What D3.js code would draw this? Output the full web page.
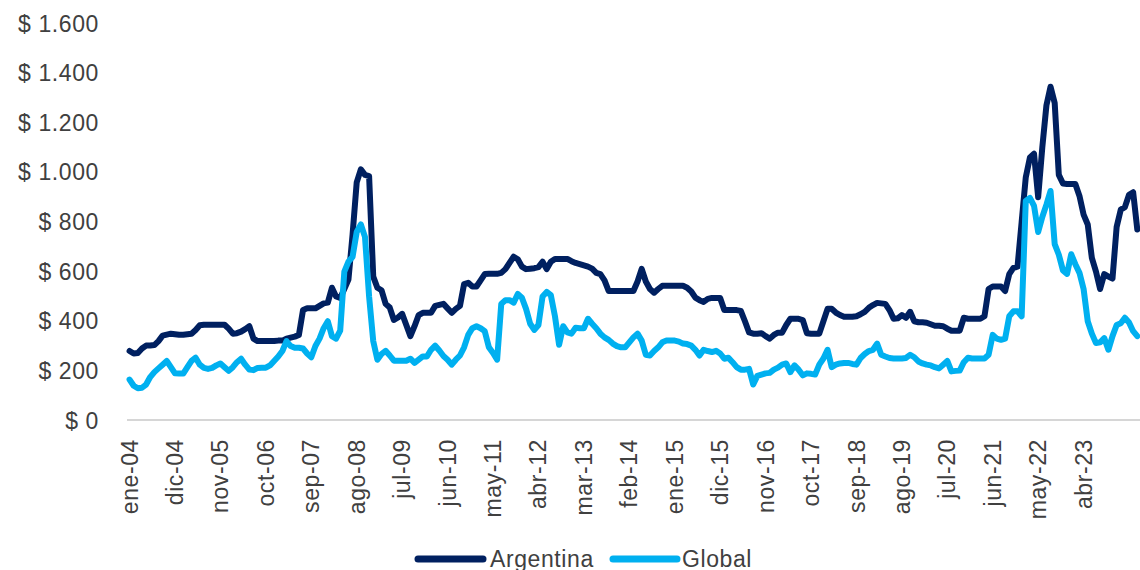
<!DOCTYPE html>
<html>
<head>
<meta charset="utf-8">
<script src="https://cdn.jsdelivr.net/npm/d3@7"></script>
<style>
  body { margin: 0; background: #fff; }
  text { font-family: "Liberation Sans", Arial, sans-serif; fill: #404040; }
</style>
</head>
<body>
<svg id="chart" width="1140" height="570"></svg>
<script>
// meses en español para las etiquetas
const meses = ["ene", "feb", "mar", "abr", "may", "jun", "jul", "ago", "sep", "oct", "nov", "dic"];
const startYear = 2004;

// valores mensuales (USD), ene-04 a may-24
const argentina = [
  280, 270, 272, 290, 302, 302, 304, 320, 342, 346, 350, 348,
  346, 346, 348, 350, 365, 384, 386, 386, 386, 386, 386, 386,
  370, 350, 352, 358, 368, 380, 330, 320, 320, 320, 320, 320,
  322, 322, 330, 334, 338, 345, 445, 452, 452, 452, 462, 472,
  475, 535, 500, 494, 530, 568, 750, 960, 1012, 990, 985, 580,
  535, 525, 470, 455, 405, 415, 430, 385, 340, 380, 425, 434,
  434, 434, 462, 466, 470, 452, 434, 450, 462, 550, 555, 540,
  540, 565, 590, 591, 591, 591, 595, 610, 635, 660, 650, 620,
  610, 612, 614, 618, 640, 610, 640, 651, 651, 651, 651, 642,
  635, 630, 625, 620, 612, 595, 590, 565, 522, 522, 522, 522,
  522, 522, 522, 560, 611, 560, 530, 515, 530, 543, 543, 543,
  543, 543, 543, 535, 520, 495, 485, 478, 490, 494, 494, 494,
  445, 445, 445, 445, 442, 400, 355, 350, 350, 352, 340, 330,
  345, 354, 354, 385, 410, 410, 410, 405, 352, 350, 350, 350,
  400, 450, 450, 435, 425, 418, 418, 418, 420, 428, 438, 454,
  465, 474, 472, 470, 445, 410, 412, 425, 414, 438, 400, 396,
  396, 394, 388, 382, 382, 380, 370, 362, 362, 362, 414, 410,
  410, 410, 410, 420, 530, 540, 540, 540, 522, 590, 615, 620,
  800, 980, 1060, 1075, 900, 1100, 1270, 1345, 1280, 990, 955, 953,
  953, 953, 905, 830, 790, 655, 600, 530, 590, 580, 572, 780,
  850, 860, 910, 920, 770
];

const global = [
  165, 140, 130, 132, 145, 175, 195, 210, 225, 240, 215, 190,
  189, 189, 215, 240, 253, 225, 212, 208, 212, 222, 230, 215,
  200, 215, 235, 249, 225, 205, 203, 212, 213, 213, 222, 240,
  258, 280, 320, 300, 293, 293, 290, 270, 255, 300, 330, 372,
  400, 340, 330, 362, 600, 640, 660, 760, 790, 740, 500, 320,
  245, 268, 281, 262, 241, 241, 241, 241, 249, 232, 245, 258,
  258, 285, 302, 282, 260, 245, 225, 245, 262, 295, 345, 372,
  380, 372, 360, 295, 272, 245, 470, 485, 485, 475, 510, 495,
  450, 390, 365, 385, 500, 518, 505, 420, 305, 380, 355, 350,
  374, 372, 372, 410, 390, 372, 350, 335, 325, 310, 300, 295,
  295, 315, 335, 350, 322, 265, 262, 280, 295, 315, 322, 322,
  322, 318, 310, 308, 302, 285, 262, 285, 280, 276, 281, 270,
  249, 253, 235, 215, 205, 205, 208, 145, 180, 185, 190, 192,
  205, 213, 225, 230, 195, 222, 205, 182, 190, 188, 185, 225,
  250, 285, 215, 225, 230, 232, 232, 228, 225, 252, 268, 280,
  285, 310, 265, 258, 252, 250, 250, 250, 252, 265, 255, 238,
  230, 225, 222, 215, 210, 225, 240, 198, 200, 201, 235, 253,
  250, 250, 250, 250, 265, 345, 330, 325, 330, 420, 440, 440,
  420, 885, 897, 865, 760, 820, 870, 925, 711, 668, 605, 591,
  670, 630, 595, 530, 400, 350, 312, 315, 332, 285, 340, 385,
  392, 414, 395, 360, 340
];

const yTicks = [0, 200, 400, 600, 800, 1000, 1200, 1400, 1600];
const labelStep = 11;   // una etiqueta cada 11 meses
const lastLabel = 231;  // abr-23 es la ultima etiqueta visible

const meses_cat = argentina.map((d, i) =>
  meses[i % 12] + "-" + String(startYear + Math.floor(i / 12)).slice(2));

const series = [
  { name: "Argentina", values: argentina, color: "#002060" },
  { name: "Global", values: global, color: "#00B0F0" }
];

const svg = d3.select("#chart");

const x = d3.scaleBand()
  .domain(meses_cat)
  .range([127.5, 127.5 + meses_cat.length * 4.13]);

const y = d3.scaleLinear()
  .domain([0, 1600])
  .range([420.5, 23.5]);

const locale = d3.formatLocale({ decimal: ",", thousands: ".", grouping: [3], currency: ["$ ", ""] });
const fmt = locale.format("$,");

// eje Y (solo etiquetas)
svg.append("g")
  .selectAll("text")
  .data(yTicks)
  .enter().append("text")
  .attr("x", 99)
  .attr("y", d => y(d))
  .attr("dy", "0.35em")
  .attr("text-anchor", "end")
  .attr("font-size", "23px")
  .attr("letter-spacing", "0.6px")
  .text(d => fmt(d));

// linea base
svg.append("line")
  .attr("x1", 127)
  .attr("x2", 1140)
  .attr("y1", 420)
  .attr("y2", 420)
  .attr("stroke", "#c8c8c8")
  .attr("stroke-width", 1.5);

// etiquetas del eje X
svg.append("g")
  .selectAll("text")
  .data(meses_cat.filter((d, i) => i % labelStep === 0 && i <= lastLabel))
  .enter().append("text")
  .attr("transform", d => `translate(${x(d) + x.bandwidth() / 2}, 439) rotate(-90)`)
  .attr("dy", "0.35em")
  .attr("text-anchor", "end")
  .attr("font-size", "23px")
  .attr("letter-spacing", "0.6px")
  .text(d => d);

// lineas
const line = d3.line()
  .x((d, i) => x(meses_cat[i]) + x.bandwidth() / 2)
  .y(d => y(d));

series.forEach(s => {
  svg.append("path")
    .datum(s.values)
    .attr("fill", "none")
    .attr("stroke", s.color)
    .attr("stroke-width", 6)
    .attr("stroke-linejoin", "round")
    .attr("stroke-linecap", "round")
    .attr("d", line);
});

// leyenda
const legendPos = [{ x1: 418, x2: 483, tx: 490 }, { x1: 613, x2: 677, tx: 682 }];
series.forEach((s, i) => {
  const p = legendPos[i];
  svg.append("line")
    .attr("x1", p.x1).attr("x2", p.x2)
    .attr("y1", 559).attr("y2", 559)
    .attr("stroke", s.color)
    .attr("stroke-width", 7)
    .attr("stroke-linecap", "round");
  svg.append("text")
    .attr("x", p.tx)
    .attr("y", 566.5)
    .attr("font-size", "23px")
    .attr("letter-spacing", "0.6px")
    .text(s.name);
});
</script>
</body>
</html>
